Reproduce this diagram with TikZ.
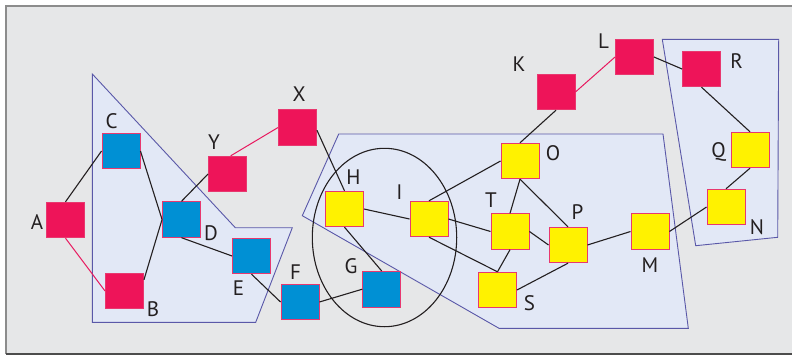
\documentclass[tikz,border=0pt]{standalone}
\usepackage{fontspec}
\setmainfont{PT Sans}
\definecolor{panel}{HTML}{E6E7E8}
\definecolor{zonefill}{HTML}{E2E8F6}
\definecolor{zoneline}{HTML}{5A58A8}
\definecolor{rednode}{HTML}{EE1459}
\definecolor{bluenode}{HTML}{0090D4}
\definecolor{yellownode}{HTML}{FFF200}
\definecolor{nodeedge}{HTML}{E8386F}
\definecolor{ink}{HTML}{231F20}
\definecolor{redlink}{HTML}{E8195F}
\begin{document}
\begin{tikzpicture}[x=1pt,y=-1pt,
  box/.style={draw=nodeedge,line width=0.9pt,minimum width=38pt,minimum height=35.5pt,inner sep=0pt},
  redbox/.style={box,fill=rednode},
  bluebox/.style={box,fill=bluenode},
  yellowbox/.style={box,fill=yellownode},
  tag/.style={inner sep=0pt,text height=15pt,text depth=0pt,text=ink,font=\fontsize{21}{24}\selectfont},
  zone/.style={draw=zoneline,fill=zonefill,line width=0.9pt,line join=miter},
  link/.style={draw=ink,line width=1.1pt},
  redlinkstyle/.style={draw=redlink,line width=1pt}]
\useasboundingbox (0,0) rectangle (792,356);
% panel
\fill[panel] (6,6) rectangle (800,354);
\draw[line width=1.5pt,draw=black!45] (800,6) -- (6,6) -- (6,354);
\draw[line width=1.5pt,draw=black!70] (6,354) -- (800,354);

% zones
\draw[zone] (92.3,74) -- (235.3,227.7) -- (292.3,227.7) -- (255.7,322.3) -- (92.3,322.3) -- cycle;
\draw[zone] (338.7,134) -- (663,134) -- (688.3,328.3) -- (499,328.3) -- (302.3,215.7) -- cycle;
\draw[zone] (662.3,39.3) -- (778.7,39.3) -- (777.7,237.3) -- (695.7,245.7) -- cycle;
\draw[ink,line width=1.1pt] (384.5,237.5) ellipse [x radius=72.2pt,y radius=89.2pt];

% nodes
\node[redbox] (A) at (65.5,220) {};
\node[bluebox] (C) at (121,151) {};
\node[redbox] (B) at (124.5,291) {};
\node[bluebox] (D) at (181.5,219.5) {};
\node[redbox] (Y) at (227.5,174) {};
\node[redbox] (X) at (297.5,127.5) {};
\node[bluebox] (E) at (251.5,256) {};
\node[bluebox] (F) at (300,302) {};
\node[yellowbox] (H) at (344.5,209) {};
\node[bluebox] (G) at (381.7,289.2) {};
\node[yellowbox] (I) at (429,219) {};
\node[yellowbox] (O) at (520,161) {};
\node[yellowbox] (T) at (510,231.5) {};
\node[yellowbox] (P) at (568,245) {};
\node[yellowbox] (S) at (497.5,290) {};
\node[yellowbox] (M) at (650,231.5) {};
\node[yellowbox] (N) at (726,207) {};
\node[yellowbox] (Q) at (750,150) {};
\node[redbox] (R) at (701.5,69) {};
\node[redbox] (L) at (634.5,57) {};
\node[redbox] (K) at (556,92) {};

% labels
\node[tag] (tA) at (37,221.5) {A};
\node[tag] (tC) at (111.5,121) {C};
\node[tag] (tB) at (153,309) {B};
\node[tag] (tD) at (211,233) {D};
\node[tag] (tY) at (214,141.5) {Y};
\node[tag] (tX) at (299,93.5) {X};
\node[tag] (tE) at (238.5,288) {E};
\node[tag] (tF) at (295.5,271.5) {F};
\node[tag] (tH) at (353.5,176.5) {H};
\node[tag] (tG) at (351,266) {G};
\node[tag] (tI) at (399.5,191.5) {I};
\node[tag] (tT) at (491,200) {T};
\node[tag] (tO) at (553,153) {O};
\node[tag] (tP) at (577.5,211.5) {P};
\node[tag] (tS) at (529.5,302.5) {S};
\node[tag] (tM) at (650,265) {M};
\node[tag] (tN) at (757,226.5) {N};
\node[tag] (tQ) at (718.5,149.5) {Q};
\node[tag] (tR) at (736.5,60.5) {R};
\node[tag] (tL) at (603.5,40.5) {L};
\node[tag] (tK) at (519,64) {K};

% connections
\draw[link] (A.north) -- (C.west);
\draw[redlinkstyle] (A.south) -- (B.west);
\draw[link] (C.east) -- (D.west);
\draw[link] (B.30) -- (D.west);
\draw[link] (D.north) -- (Y.west);
\draw[redlinkstyle] (Y.80) -- (X.west);
\draw[link] (X.-8) -- (H.north);
\draw[link] (D.south) -- (E.west);
\draw[link] (E.south) -- (F.west);
\draw[link] (F.east) -- (G.west);
\draw[link] (H.south) -- (G.north);
\draw[link] (H.east) -- (I.west);
\draw[link] (I.north) -- (O.west);
\draw[link] (I.east) -- (T.west);
\draw[link] (I.south) -- (S.north);
\draw[link] (O.south) -- (T.north);
\draw[link] (O.south) -- (P.north);
\draw[link] (T.east) -- (P.west);
\draw[link] (T.south) -- (S.north);
\draw[link] (S.east) -- (P.south);
\draw[link] (P.east) -- (M.west);
\draw[link] (M.east) -- (N.west);
\draw[link] (N.north) -- (Q.south);
\draw[link] (Q.north) -- (R.south);
\draw[link] (R.west) -- (L.east);
\draw[redlinkstyle] (L.west) -- (K.east);
\draw[link] (K.south) -- (O.north);
\end{tikzpicture}
\end{document}
